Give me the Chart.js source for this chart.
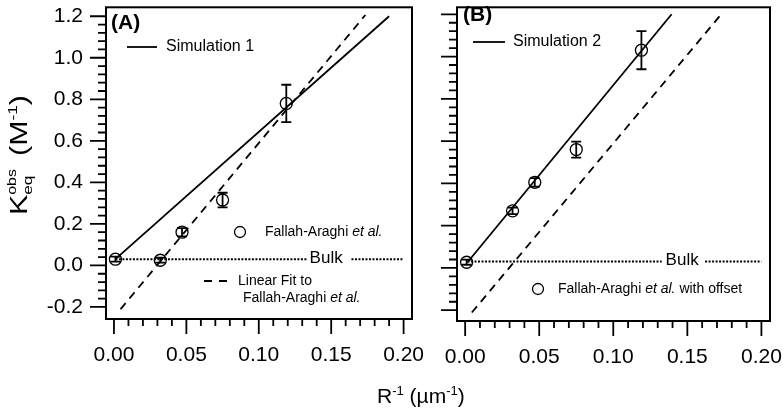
<!DOCTYPE html>
<html>
<head>
<meta charset="utf-8">
<script src="https://cdn.jsdelivr.net/npm/chart.js@4.4.1/dist/chart.umd.min.js"></script>
<style>
  html, body { margin: 0; padding: 0; background: #fff; }
  #wrap { position: relative; width: 783px; height: 410px; }
  #wrap canvas { position: absolute; left: 0; top: 0; }
</style>
</head>
<body>
<div id="wrap">
  <canvas id="chart-a" width="783" height="410"></canvas>
  <canvas id="chart-b" width="783" height="410"></canvas>
</div>
<script>
// ============================================================
// K_eq^obs gegen R^-1: (A) Rohdaten, (B) mit Offset
// ============================================================

// R^-1 (µm^-1) der fünf Tropfengrößen
const invRadius = [0.001, 0.032, 0.047, 0.075, 0.119];
// (A) Fallah-Araghi et al.
const kA = [0.03, 0.025, 0.16, 0.315, 0.78];
const errA = [0.012, 0.012, 0.02, 0.035, 0.09];
// (B) Fallah-Araghi et al. with offset
const kB = [0.027, 0.27, 0.405, 0.56, 1.03];
const errB = [0.012, 0.015, 0.02, 0.038, 0.09];

// Simulationen (Endpunkte der Geraden)
const sim1X = [0.001, 0.19];
const sim1Y = [0.03, 1.2];
const sim2X = [0.0016, 0.1394];
const sim2Y = [0.027, 1.2];
// Linear Fit to Fallah-Araghi et al.
const fitX = [0.0045, 0.1736];
const fitY = [-0.211, 1.206];

// Bulk: zwei gepunktete Stücke links/rechts vom Label
const bulkK = 0.03;
const bulkPiecesA = [[0.001, 0.134], [0.164, 0.2]];
const bulkPiecesB = [[0.0016, 0.1327], [0.162, 0.2]];
const bulkLabelX = 0.1465;

// Achsen
const xTicks = [0, 0.05, 0.1, 0.15, 0.2];
const yTicks = [-0.2, 0, 0.2, 0.4, 0.6, 0.8, 1.0, 1.2];

const FONT = '"Liberation Sans", Arial, Helvetica, sans-serif';
Chart.defaults.font.family = FONT;
Chart.defaults.color = "#000";

const pts = (xs, ys) => xs.map((x, i) => ({ x, y: ys[i] }));
const bulkData = (pieces) => {
  const out = [];
  pieces.forEach(([a, b], i) => {
    if (i > 0) out.push({ x: (out[out.length - 1].x + a) / 2, y: null });
    out.push({ x: a, y: bulkK }, { x: b, y: bulkK });
  });
  return out;
};

function drawRuns(ctx, x, y, runs) {
  ctx.textAlign = "left";
  for (const r of runs) {
    ctx.font = r.font;
    ctx.textBaseline = r.base || "middle";
    ctx.fillText(r.t, x, y + (r.dy || 0));
    x += r.adv !== undefined ? r.adv : ctx.measureText(r.t).width;
  }
  return x;
}

// Rahmen + Haupt-/Nebenstriche (nach außen)
const frameTicks = {
  id: "frameTicks",
  afterDraw(chart) {
    const { ctx, chartArea: a, scales: { x, y } } = chart;
    ctx.save();
    ctx.strokeStyle = "#000";
    ctx.lineWidth = 2;
    ctx.strokeRect(a.left, a.top, a.right - a.left, a.bottom - a.top);
    ctx.lineWidth = 1.8;
    ctx.beginPath();
    xTicks.forEach((v, i) => {
      const px = x.getPixelForValue(v);
      ctx.moveTo(px, a.bottom); ctx.lineTo(px, a.bottom + 15);
      if (i < xTicks.length - 1) {
        const step = (xTicks[i + 1] - v) / 5;
        for (let k = 1; k < 5; k++) {
          const m = x.getPixelForValue(v + k * step);
          ctx.moveTo(m, a.bottom); ctx.lineTo(m, a.bottom + 7);
        }
      }
    });
    yTicks.forEach((v, i) => {
      const py = y.getPixelForValue(v);
      ctx.moveTo(a.left, py); ctx.lineTo(a.left - 16, py);
      if (i < yTicks.length - 1) {
        const step = (yTicks[i + 1] - v) / 5;
        for (let k = 1; k < 5; k++) {
          const m = y.getPixelForValue(v + k * step);
          ctx.moveTo(a.left, m); ctx.lineTo(a.left - 8, m);
        }
      }
    });
    ctx.stroke();
    ctx.restore();
  },
};

// Fehlerbalken aus ds.errors
const errorBars = {
  id: "errorBars",
  afterDatasetsDraw(chart) {
    const { ctx } = chart;
    const ys = chart.scales.y;
    chart.data.datasets.forEach((ds, i) => {
      if (!ds.errors) return;
      const meta = chart.getDatasetMeta(i);
      ctx.save();
      ctx.strokeStyle = "#000";
      ctx.lineWidth = 1.8;
      ctx.beginPath();
      meta.data.forEach((pt, j) => {
        const v = ds.data[j].y, e = ds.errors[j];
        const t = ys.getPixelForValue(v + e), b = ys.getPixelForValue(v - e);
        ctx.moveTo(pt.x, t); ctx.lineTo(pt.x, b);
        ctx.moveTo(pt.x - 5, t); ctx.lineTo(pt.x + 5, t);
        ctx.moveTo(pt.x - 5, b); ctx.lineTo(pt.x + 5, b);
      });
      ctx.stroke();
      ctx.restore();
    });
  },
};

function legendLine(ctx, x1, x2, y, dash) {
  ctx.save();
  ctx.strokeStyle = "#000";
  ctx.lineWidth = 1.8;
  ctx.setLineDash(dash || []);
  ctx.beginPath(); ctx.moveTo(x1, y); ctx.lineTo(x2, y); ctx.stroke();
  ctx.restore();
}
function legendCircle(ctx, x, y) {
  ctx.save();
  ctx.strokeStyle = "#000";
  ctx.lineWidth = 1.3;
  ctx.beginPath(); ctx.arc(x, y, 5.5, 0, Math.PI * 2); ctx.stroke();
  ctx.restore();
}
function bulkLabel(chart) {
  const { ctx, scales: { x, y } } = chart;
  ctx.save();
  ctx.fillStyle = "#000";
  ctx.font = "17px " + FONT;
  ctx.textAlign = "center";
  ctx.textBaseline = "middle";
  ctx.fillText("Bulk", x.getPixelForValue(bulkLabelX), y.getPixelForValue(bulkK) - 1);
  ctx.restore();
}

const notesA = {
  id: "notesA",
  afterDraw(chart) {
    const { ctx } = chart;
    ctx.save();
    ctx.fillStyle = "#000";
    drawRuns(ctx, 111, 23, [{ t: "(A)", font: "bold 21px " + FONT }]);
    legendLine(ctx, 127, 157, 47);
    drawRuns(ctx, 166, 47, [{ t: "Simulation 1", font: "16px " + FONT }]);
    legendCircle(ctx, 240, 232);
    drawRuns(ctx, 265, 232, [
      { t: "Fallah-Araghi ", font: "14px " + FONT },
      { t: "et al.", font: "italic 14px " + FONT },
    ]);
    legendLine(ctx, 204, 228, 281, [8, 7]);
    drawRuns(ctx, 238, 281, [{ t: "Linear Fit to", font: "14px " + FONT }]);
    drawRuns(ctx, 243, 298, [
      { t: "Fallah-Araghi ", font: "14px " + FONT },
      { t: "et al.", font: "italic 14px " + FONT },
    ]);
    bulkLabel(chart);

    // x-Titel: R^-1 (µm^-1)
    drawRuns(ctx, 377, 403, [
      { t: "R", font: "21px " + FONT, base: "alphabetic" },
      { t: "-1", font: "13px " + FONT, base: "alphabetic", dy: -8 },
      { t: " (µm", font: "21px " + FONT, base: "alphabetic" },
      { t: "-1", font: "13px " + FONT, base: "alphabetic", dy: -8 },
      { t: ")", font: "21px " + FONT, base: "alphabetic" },
    ]);

    // y-Titel: K_eq^obs (M^-1), gedreht und auf Länge gestreckt
    ctx.save();
    ctx.translate(27, 215);
    ctx.rotate(-Math.PI / 2);
    const main = "23px " + FONT, small = "13px " + FONT;
    ctx.font = main; const wK = ctx.measureText("K").width;
    ctx.font = small; const wObs = ctx.measureText("obs").width;
    ctx.font = main; const wM = ctx.measureText(" (M").width;
    ctx.font = small; const wSup = ctx.measureText("-1").width;
    ctx.font = main; const wP = ctx.measureText(")").width;
    const total = wK + wObs + 2 + wM + wSup + wP;
    ctx.scale(120 / total, 1);
    drawRuns(ctx, 0, 0, [
      { t: "K", font: main, base: "alphabetic" },
      { t: "eq", font: small, base: "alphabetic", dy: 5, adv: 0 },
      { t: "obs", font: "12px " + FONT, base: "alphabetic", dy: -11, adv: wObs + 2 },
      { t: " (M", font: main, base: "alphabetic" },
      { t: "-1", font: small, base: "alphabetic", dy: -10 },
      { t: ")", font: main, base: "alphabetic" },
    ]);
    ctx.restore();
    ctx.restore();
  },
};

const notesB = {
  id: "notesB",
  afterDraw(chart) {
    const { ctx } = chart;
    ctx.save();
    ctx.fillStyle = "#000";
    drawRuns(ctx, 463, 15, [{ t: "(B)", font: "bold 21px " + FONT }]);
    legendLine(ctx, 473, 505, 42);
    drawRuns(ctx, 513, 42, [{ t: "Simulation 2", font: "16px " + FONT }]);
    legendCircle(ctx, 538, 289);
    drawRuns(ctx, 558, 289, [
      { t: "Fallah-Araghi ", font: "14px " + FONT },
      { t: "et al.", font: "italic 14px " + FONT },
      { t: " with offset", font: "14px " + FONT },
    ]);
    bulkLabel(chart);
    ctx.restore();
  },
};

function lineDs(data, dash, width) {
  return {
    data, showLine: true, borderColor: "#000", borderWidth: width || 1.8,
    borderDash: dash || [], pointRadius: 0, spanGaps: false,
  };
}
function pointDs(data, errors) {
  return {
    data, errors, showLine: false, pointRadius: 6, pointBorderWidth: 1.3,
    pointBorderColor: "#000", pointBackgroundColor: "rgba(0,0,0,0)",
  };
}

function makePanel(id, cfg) {
  return new Chart(document.getElementById(id), {
    type: "scatter",
    data: { datasets: cfg.datasets },
    options: {
      responsive: false,
      animation: false,
      devicePixelRatio: 1,
      events: [],
      layout: { padding: cfg.padding },
      plugins: { legend: { display: false }, tooltip: { enabled: false } },
      scales: {
        x: {
          type: "linear", min: -0.0055, max: 0.2058,
          afterBuildTicks: (s) => { s.ticks = xTicks.map((value) => ({ value })); },
          afterFit: (s) => { s.height = cfg.xHeight; s.paddingLeft = 0; s.paddingRight = 0; },
          grid: { drawOnChartArea: false, drawTicks: false, color: "rgba(0,0,0,0)" },
          border: { display: false },
          ticks: {
            autoSkip: false, maxRotation: 0, padding: 24, color: "#000",
            font: { size: 21, family: FONT },
            callback: (v) => Number(v).toFixed(2),
          },
        },
        y: {
          type: "linear", min: cfg.yMin, max: cfg.yMax,
          afterBuildTicks: (s) => { s.ticks = yTicks.map((value) => ({ value })); },
          afterFit: (s) => { s.width = cfg.yWidth; s.paddingTop = 0; s.paddingBottom = 0; },
          grid: { drawOnChartArea: false, drawTicks: false, color: "rgba(0,0,0,0)" },
          border: { display: false },
          ticks: {
            display: cfg.yLabels, padding: 23, color: "#000",
            font: { size: 21, family: FONT },
            callback: (v) => Number(v).toFixed(1),
          },
        },
      },
    },
    plugins: [frameTicks, errorBars, cfg.notes],
  });
}

makePanel("chart-a", {
  padding: { left: 0, top: 3, right: 371, bottom: 0 },
  xHeight: 91, yWidth: 106, yMin: -0.258, yMax: 1.243, yLabels: true,
  notes: notesA,
  datasets: [
    lineDs(pts(sim1X, sim1Y)),
    lineDs(pts(fitX, fitY), [8, 6]),
    lineDs(bulkData(bulkPiecesA), [2, 1.5], 2),
    pointDs(pts(invRadius, kA), errA),
  ],
});

makePanel("chart-b", {
  padding: { left: 0, top: 3, right: 13, bottom: 0 },
  xHeight: 89, yWidth: 457, yMin: -0.251, yMax: 1.233, yLabels: false,
  notes: notesB,
  datasets: [
    lineDs(pts(sim2X, sim2Y)),
    lineDs(pts(fitX, fitY), [8, 6]),
    lineDs(bulkData(bulkPiecesB), [2, 1.5], 2),
    pointDs(pts(invRadius, kB), errB),
  ],
});
</script>
</body>
</html>
